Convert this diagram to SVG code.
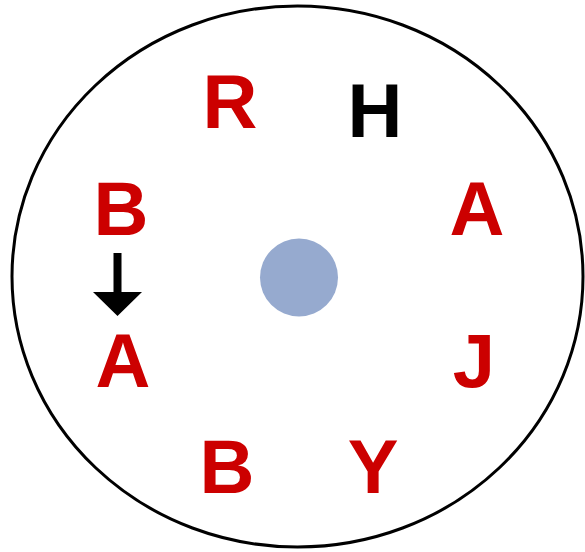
<svg xmlns="http://www.w3.org/2000/svg" width="585" height="552" viewBox="0 0 585 552">
<style>
.l{font-family:"Liberation Sans",Arial,sans-serif;font-weight:bold;font-size:76px;text-anchor:middle}
.r{fill:#CC0000}
.k{fill:#000}
</style>
<rect width="585" height="552" fill="#fff"/>
<g id="ring"><ellipse cx="297.5" cy="276.5" rx="285.5" ry="270.5" fill="none" stroke="#000" stroke-width="3"/></g>
<g id="center"><circle cx="299" cy="277.5" r="39" fill="#96AACF"/></g>
<g id="R"><text class="l r" x="230" y="128">R</text></g>
<g id="H"><text class="l k" x="375" y="137">H</text></g>
<g id="B1"><text class="l r" x="121" y="235">B</text></g>
<g id="A1"><text class="l r" x="123" y="387">A</text></g>
<g id="A2"><text class="l r" x="477" y="235">A</text></g>
<g id="J"><text class="l r" x="474" y="387">J</text></g>
<g id="B2"><text class="l r" x="227" y="493">B</text></g>
<g id="Y"><text class="l r" x="373" y="493">Y</text></g>
<g id="connectors">
<path d="M113.5 253 H121.5 V292 H142 L117.5 316 L93 292 H113.5 Z" fill="#000"/>
</g>
</svg>
